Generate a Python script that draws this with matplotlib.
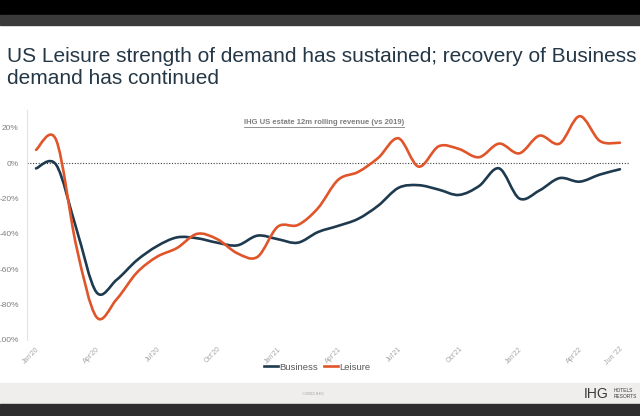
import numpy as np
import matplotlib
matplotlib.use("Agg")
import matplotlib.pyplot as plt
from matplotlib.path import Path
from matplotlib.patches import PathPatch, Rectangle
from matplotlib.lines import Line2D

plt.rcParams['font.family'] = ['Liberation Sans', 'DejaVu Sans']

# monthly values, Jan'20 .. Jun'22 (% vs 2019)
months = np.arange(30)
business = [-3, -1, -37, -73, -66, -55, -47, -42, -42.5, -45, -46.5, -41, -43, -45, -39,
            -35.5, -31.5, -24, -14, -12.5, -15, -18, -13, -3, -20, -15.5, -8.5, -10.5, -6.5, -3.5]
leisure = [7.5, 13, -47, -87, -77, -62, -53, -48, -40, -43, -51, -53, -36, -35, -25.5,
           -9.5, -5, 3, 14, -2, 9.5, 8, 3.3, 11, 5.5, 15.5, 11, 26.5, 12.5, 11.5]
tick_pos = [0, 3, 6, 9, 12, 15, 18, 21, 24, 27, 29]
tick_lab = ["Jan'20", "Apr'20", "Jul'20", "Oct'20", "Jan'21", "Apr'21", "Jul'21",
            "Oct'21", "Jan'22", "Apr'22", "Jun '22"]
y_ticks = [20, 0, -20, -40, -60, -80, -100]

c_bus = '#1e3a4f'
c_lei = '#e1552a'


def smooth_path(x, y):
    # catmull-rom style smoothing drawn as bezier curves (like a smoothed Excel line)
    n = len(x)
    verts = [(x[0], y[0])]
    codes = [Path.MOVETO]
    for i in range(n - 1):
        a = max(i - 1, 0)
        d = min(i + 2, n - 1)
        c1 = (x[i] + (x[i + 1] - x[a]) / 6, y[i] + (y[i + 1] - y[a]) / 6)
        c2 = (x[i + 1] - (x[d] - x[i]) / 6, y[i + 1] - (y[d] - y[i]) / 6)
        verts += [c1, c2, (x[i + 1], y[i + 1])]
        codes += [Path.CURVE4] * 3
    return Path(verts, codes)


fig = plt.figure(figsize=(6.4, 4.16), dpi=100)
fig.patch.set_facecolor('white')

# slide bands
fig.patches.append(Rectangle((0, 1 - 15 / 416), 1, 15 / 416, transform=fig.transFigure,
                             color='black', zorder=0))
fig.patches.append(Rectangle((0, 1 - 25 / 416), 1, 10 / 416, transform=fig.transFigure,
                             color='#3a3a3a', zorder=0))
fig.patches.append(Rectangle((0, 12 / 416), 1, 21 / 416, transform=fig.transFigure,
                             color='#efeeec', zorder=0))
fig.patches.append(Rectangle((0, 0), 1, 12 / 416, transform=fig.transFigure,
                             color='#2d2d2d', zorder=0))

fig.text(7 / 640, 1 - 57 / 416, 'US Leisure strength of demand has sustained; recovery of Business',
         fontsize=15, color='#243746', va='center', ha='left')
fig.text(7 / 640, 1 - 78 / 416, 'demand has continued',
         fontsize=15, color='#243746', va='center', ha='left')

ax = fig.add_axes([27 / 640, 1 - 340 / 416, 603 / 640, 230 / 416])
ax.set_facecolor('none')

ax.add_patch(PathPatch(smooth_path(months, business), fill=False, edgecolor=c_bus, lw=1.9,
                       capstyle='round', zorder=3))
ax.add_patch(PathPatch(smooth_path(months, leisure), fill=False, edgecolor=c_lei, lw=1.9,
                       capstyle='round', zorder=3))
ax.axhline(0, color='#404040', lw=0.8, ls=(0, (1, 1.5)), zorder=2)

ax.set_xlim(-0.45, 29.5)
ax.set_ylim(-100, 30)
ax.set_yticks(y_ticks)
ax.set_yticklabels(['%d%%' % v for v in y_ticks], fontsize=6, color='#7f7f7f')
ax.set_xticks(tick_pos)
ax.set_xticklabels(tick_lab, fontsize=5, color='#a6a6a6', rotation=45, ha='right',
                   rotation_mode='anchor')
ax.tick_params(axis='both', length=0)
ax.tick_params(axis='y', pad=6)
ax.tick_params(axis='x', pad=4)
for s in ['top', 'right', 'bottom']:
    ax.spines[s].set_visible(False)
ax.spines['left'].set_color('#e3e3e3')
ax.spines['left'].set_linewidth(0.8)

handles = [Line2D([], [], color=c_bus, lw=1.9), Line2D([], [], color=c_lei, lw=1.9)]
fig.legend(handles, ['Business', 'Leisure'], loc='center', bbox_to_anchor=(317 / 640, 1 - 367 / 416),
           ncol=2, frameon=False, fontsize=6.8, handlelength=1.5, handletextpad=0.1,
           columnspacing=0.6, labelcolor='#595959')

sub = fig.text(324 / 640, 1 - 122 / 416, 'IHG US estate 12m rolling revenue (vs 2019)',
               fontsize=5.5, fontweight='bold', color='#7f7f7f', ha='center', va='center')
fig.canvas.draw()
bb = sub.get_window_extent().transformed(fig.transFigure.inverted())
fig.add_artist(Line2D([bb.x0, bb.x1], [1 - 126.5 / 416] * 2, transform=fig.transFigure,
                      color='#7f7f7f', lw=0.6))

fig.text(313 / 640, 1 - 394 / 416, '\u00a92022 IHG', fontsize=3.2, color='#a0a0a0',
         ha='center', va='center')
fig.text(584 / 640, 1 - 394 / 416, 'IHG', fontsize=10, color='#3a3a3a',
         ha='left', va='center')
fig.text(614 / 640, 1 - 391 / 416, 'HOTELS', fontsize=3.5, color='#3a3a3a', ha='left', va='center')
fig.text(614 / 640, 1 - 397 / 416, 'RESORTS', fontsize=3.5, color='#3a3a3a', ha='left', va='center')

fig.savefig('out.png', dpi=100)
